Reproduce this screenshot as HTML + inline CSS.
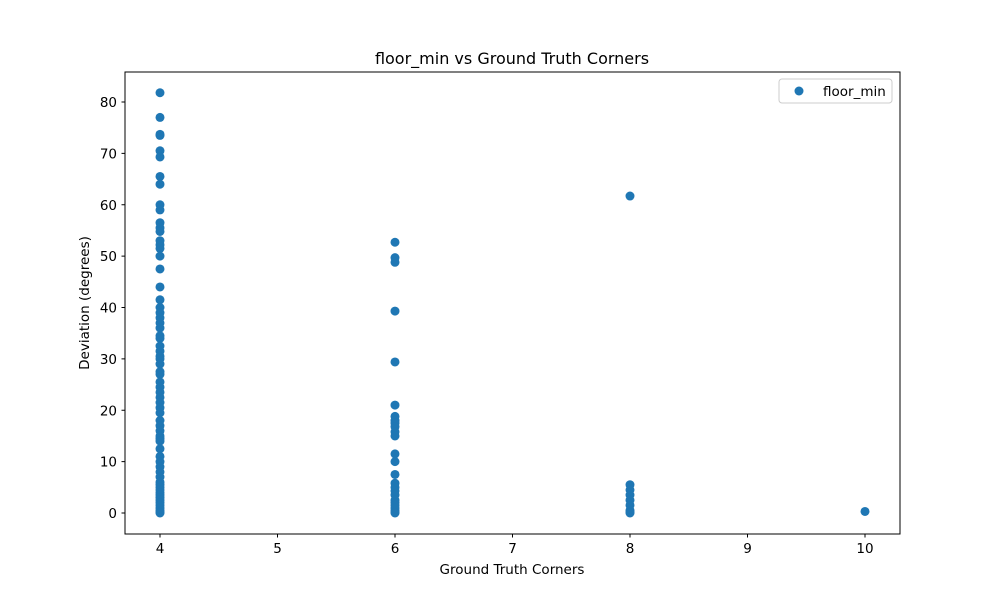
<!DOCTYPE html>
<html><head><meta charset="utf-8"><style>
body{margin:0;background:#fff;}
svg{display:block;font-family:"DejaVu Sans","Liberation Sans",sans-serif;}
</style></head><body>
<svg id="chart" width="1000" height="600">
<rect width="1000" height="600" fill="#fff"/>
<text x="512" y="64" text-anchor="middle" font-size="16">floor_min vs Ground Truth Corners</text>
<g id="marks"></g>
<rect x="125" y="72" width="775" height="462" fill="none" stroke="#000" stroke-width="1"/>
<g id="xticks"></g><g id="yticks"></g>
<text x="512" y="574" text-anchor="middle" font-size="13.5">Ground Truth Corners</text>
<text transform="translate(89,303) rotate(-90)" text-anchor="middle" font-size="13.5">Deviation (degrees)</text>
<g>
<rect x="779" y="79" width="113" height="24" rx="3" fill="#fff" stroke="#ccc"/>
<circle cx="799" cy="91" r="4.5" fill="#1f77b4"/>
<text x="823" y="96" font-size="13.5">floor_min</text>
</g>
</svg>
<script>
const xs4=[81.8,77,73.5,73.7,70.5,69.3,65.5,64,60,59,56.5,55.5,54.8,53,52.2,51.5,50,47.5,44,41.5,40,39,38,37,36,34.5,34,32.5,31.5,30.5,30,29,27.5,27,25.5,24.5,23.5,22.5,21.5,20.5,19.5,18,17,16,15,14.5,14,12.5,11,10,9,8,7,6,5.5,5,4.5,4,3.5,3,2.5,2,1.5,1,0.5,0.2,0];
const xs6=[52.7,49.7,48.8,39.3,29.4,21,18.8,18,17.5,16.8,15.8,15,11.5,10,7.5,5.8,5,4.3,3.5,2.5,2,1.5,1,0.5,0.2,0];
const xs8=[61.7,5.5,4.5,3.5,2.5,1.5,0.5,0.2,0];
const xs10=[0.3];
const xTicks=[4,5,6,7,8,9,10];
const yTicks=[0,10,20,30,40,50,60,70,80];
const NS="http://www.w3.org/2000/svg";
const xScale=v=>160+(v-4)*117.5;
const yScale=v=>513-v*5.1375;
const marks=document.getElementById('marks');
[[4,xs4],[6,xs6],[8,xs8],[10,xs10]].forEach(([gx,vals])=>{
  vals.forEach(v=>{
    const c=document.createElementNS(NS,'circle');
    c.setAttribute('cx',xScale(gx));c.setAttribute('cy',yScale(v));
    c.setAttribute('r',4.5);c.setAttribute('fill','#1f77b4');
    
    
    marks.appendChild(c);
  });
});
const xt=document.getElementById('xticks');
xTicks.forEach(t=>{
  const x=xScale(t);
  const l=document.createElementNS(NS,'line');
  l.setAttribute('x1',x);l.setAttribute('x2',x);l.setAttribute('y1',534);l.setAttribute('y2',537.5);l.setAttribute('stroke','#000');
  
  
  xt.appendChild(l);
  const s=document.createElementNS(NS,'text');
  s.setAttribute('x',x);s.setAttribute('y',553);s.setAttribute('text-anchor','middle');s.setAttribute('font-size','13.5');
  s.textContent=t;
  
  
  xt.appendChild(s);
});
const yt=document.getElementById('yticks');
yTicks.forEach(t=>{
  const y=yScale(t);
  const l=document.createElementNS(NS,'line');
  l.setAttribute('x1',121.5);l.setAttribute('x2',125);l.setAttribute('y1',y);l.setAttribute('y2',y);l.setAttribute('stroke','#000');
  
  
  yt.appendChild(l);
  const s=document.createElementNS(NS,'text');
  s.setAttribute('x',117);s.setAttribute('y',y+5);s.setAttribute('text-anchor','end');s.setAttribute('font-size','13.5');
  s.textContent=t;
  
  
  yt.appendChild(s);
});
</script>
</body></html>
